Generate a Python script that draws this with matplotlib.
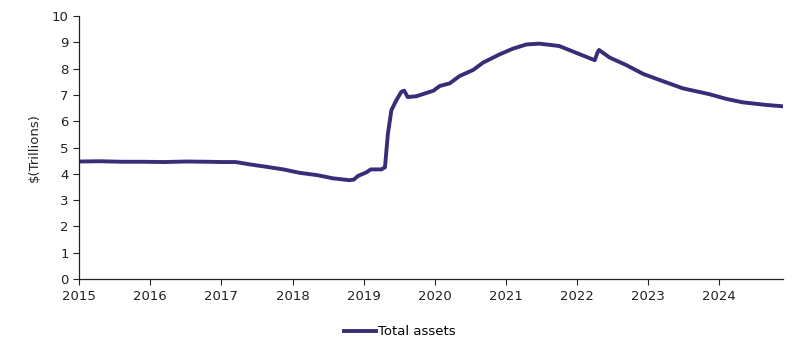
import matplotlib.pyplot as plt

# values (decimal year, $ trillions)
years = [2015.0, 2015.3, 2015.6, 2015.9, 2016.2, 2016.5, 2016.8, 2017.0, 2017.2,
         2017.4, 2017.63, 2017.87, 2018.1, 2018.35, 2018.57, 2018.8, 2018.86,
         2018.92, 2019.04, 2019.1, 2019.25, 2019.3, 2019.34, 2019.39, 2019.46,
         2019.53, 2019.57, 2019.62, 2019.74, 2019.98, 2020.07, 2020.21, 2020.35,
         2020.54, 2020.68, 2020.91, 2021.1, 2021.29, 2021.47, 2021.75, 2021.99,
         2022.25, 2022.29, 2022.31, 2022.46, 2022.69, 2022.93, 2023.16, 2023.49,
         2023.86, 2024.1, 2024.33, 2024.66, 2024.89]
total_assets = [4.47, 4.48, 4.46, 4.46, 4.45, 4.47, 4.46, 4.45, 4.45,
                4.36, 4.27, 4.17, 4.04, 3.95, 3.83, 3.76, 3.78,
                3.92, 4.06, 4.17, 4.17, 4.25, 5.5, 6.42, 6.8,
                7.12, 7.16, 6.92, 6.95, 7.16, 7.34, 7.44, 7.72,
                7.95, 8.23, 8.54, 8.76, 8.92, 8.95, 8.86, 8.6,
                8.32, 8.62, 8.71, 8.42, 8.14, 7.8, 7.57, 7.25,
                7.03, 6.85, 6.72, 6.62, 6.57]
year_ticks = list(range(2015, 2025))

plt.rcParams['font.family'] = 'DejaVu Sans'
fig = plt.figure(figsize=(8, 3.56), dpi=100)
ax = fig.add_axes([0.099, 0.216, 0.88, 0.739])

ax.plot(years, total_assets, color='#382e78', linewidth=2.8, label='Total assets')

ax.set_xlim(2015, 2024.9)
ax.set_ylim(0, 10)
ax.set_xticks(year_ticks)
ax.set_xticklabels([str(y) for y in year_ticks])
ax.set_yticks(range(0, 11))
ax.set_ylabel('$(Trillions)', fontsize=9.5, color='#222222', labelpad=8)
ax.tick_params(labelsize=9.5, colors='#222222', length=4, width=0.8)

for s in ['top', 'right']:
    ax.spines[s].set_visible(False)
for s in ['left', 'bottom']:
    ax.spines[s].set_color('#222222')
    ax.spines[s].set_linewidth(0.9)

ax.legend(loc='upper center', bbox_to_anchor=(0.455, -0.13), frameon=False,
          fontsize=9.5, handlelength=2.4, handletextpad=0.15)

fig.savefig('out.png', dpi=100)
